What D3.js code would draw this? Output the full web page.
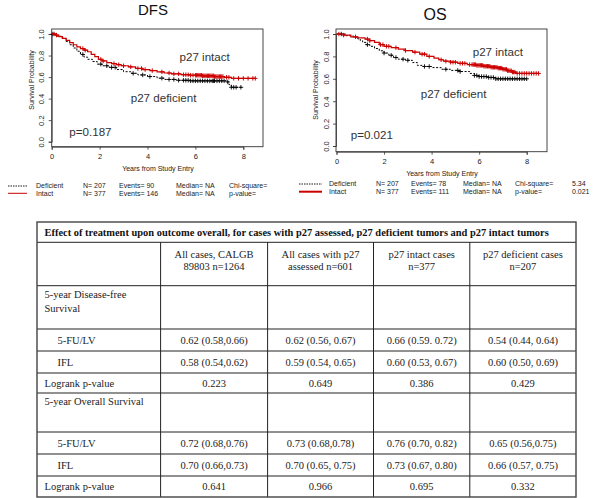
<!DOCTYPE html>
<html><head><meta charset="utf-8">
<script src="https://cdn.jsdelivr.net/npm/d3@7"></script>
<style>body{margin:0;background:#fff}svg{display:block}</style>
</head><body>
<script>
// ---------------- DATA ----------------
const xTicks = [0, 2, 4, 6, 8];
const yTicks = [0, 0.2, 0.4, 0.6, 0.8, 1.0];

// DFS – p27 intact (step times / survival)
const dfsIntactTime = [0,0.15,0.3,0.45,0.6,0.75,0.9,1.05,1.2,1.35,1.5,1.65,1.8,1.95,2.1,2.3,2.5,2.7,2.9,3.2,3.5,3.8,4.1,4.4,4.7,5.0,5.4,5.8,6.3,6.8,7.2,7.5];
const dfsIntactSurv = [1.0,0.99,0.975,0.96,0.94,0.92,0.90,0.88,0.865,0.85,0.835,0.81,0.79,0.765,0.75,0.735,0.725,0.715,0.705,0.695,0.68,0.67,0.66,0.648,0.638,0.63,0.622,0.617,0.612,0.605,0.598,0.588];
const dfsIntactEnd = 8.5;
const dfsIntactCens = [0.1,0.2,1.3,1.4,2.05,2.15,2.6,2.8,3.0,3.3,3.6,3.75,3.9,4.2,4.6,4.9,5.1,5.3,5.5,5.6,5.7,5.8,5.9,6.0,6.05,6.1,6.15,6.2,6.25,6.3,6.35,6.4,6.45,6.5,6.55,6.6,6.65,6.7,6.75,6.8,6.85,6.9,6.95,7.0,7.05,7.1,7.15,7.3,7.4,7.6,7.8,8.0,8.2,8.4,8.5];

// DFS – p27 deficient
const dfsDefTime = [0,0.2,0.4,0.6,0.75,0.9,1.05,1.2,1.35,1.5,1.7,1.9,2.1,2.4,2.7,3.0,3.3,3.6,4.0,4.4,4.7,5.2,5.8,7.3,7.4,7.5];
const dfsDefSurv = [1.0,0.98,0.96,0.93,0.90,0.87,0.84,0.81,0.785,0.765,0.745,0.72,0.705,0.69,0.67,0.65,0.635,0.62,0.605,0.59,0.578,0.57,0.565,0.555,0.53,0.505];
const dfsDefEnd = 8.0;
const dfsDefCens = [0.05,1.3,2.05,2.3,2.5,2.65,3.4,3.8,4.1,4.6,4.9,5.1,5.3,5.5,5.6,5.7,5.8,5.9,6.0,6.1,6.2,6.3,6.4,6.5,6.6,6.7,6.75,6.8,6.9,7.0,7.1,7.2,7.35,7.5,7.6,7.7,7.9];

// OS – p27 intact
const osIntactTime = [0,0.3,0.6,0.9,1.2,1.4,1.6,1.8,2.0,2.3,2.6,2.9,3.2,3.5,3.8,4.1,4.3,4.5,4.8,5.1,5.5,5.9,6.2,6.5,6.8,7.0,7.2,7.4,7.55];
const osIntactSurv = [1.0,0.99,0.975,0.965,0.955,0.94,0.925,0.905,0.89,0.878,0.865,0.852,0.838,0.82,0.80,0.785,0.77,0.757,0.748,0.738,0.727,0.72,0.712,0.703,0.695,0.685,0.672,0.66,0.648];
const osIntactEnd = 8.5;
const osIntactCens = [0.1,0.3,0.8,1.3,1.4,1.85,1.95,2.1,2.2,2.5,2.9,3.3,3.6,3.7,3.9,4.4,4.6,4.8,4.9,5.0,5.2,5.3,5.4,5.6,5.7,5.75,5.8,5.85,5.9,5.95,6.0,6.05,6.1,6.15,6.2,6.25,6.3,6.35,6.4,6.45,6.5,6.55,6.6,6.65,6.7,6.75,6.8,6.85,6.9,6.95,7.0,7.05,7.1,7.15,7.2,7.25,7.3,7.35,7.4,7.45,7.5,7.6,7.7,7.8,7.9,8.0,8.1,8.2,8.3,8.4,8.5];

// OS – p27 deficient
const osDefTime = [0,0.4,0.7,0.9,1.0,1.1,1.25,1.4,1.6,1.8,2.0,2.2,2.4,2.6,2.9,3.2,3.4,3.6,4.0,4.4,4.8,5.2,5.6,5.8,6.0,6.4,6.7];
const osDefSurv = [1.0,0.985,0.97,0.955,0.94,0.925,0.905,0.89,0.87,0.85,0.83,0.81,0.79,0.775,0.765,0.745,0.72,0.71,0.70,0.685,0.675,0.665,0.648,0.63,0.62,0.612,0.60];
const osDefEnd = 8.0;
const osDefCens = [0.2,1.3,2.0,2.3,2.5,2.8,3.0,3.7,3.9,4.6,5.1,5.2,5.8,5.9,6.0,6.1,6.2,6.3,6.4,6.5,6.6,6.7,6.8,6.9,7.0,7.1,7.2,7.3,7.4,7.5,7.6,7.7,7.8,7.9,8.0];

// legends
const dfsLegendRows = [["Deficient","N= 207","Events= 90","Median= NA","Chi-square="],
                       ["Intact","N= 377","Events= 146","Median= NA","p-value="]];
const osLegendRows  = [["Deficient","N= 207","Events= 78","Median= NA","Chi-square=","5.34"],
                       ["Intact","N= 377","Events= 111","Median= NA","p-value=","0.021"]];

// table
const tableTitle = "Effect of treatment upon outcome overall, for cases with p27 assessed, p27 deficient tumors and p27 intact tumors";
const colHeaders = [["All cases, CALGB","89803 n=1264"],["All cases with p27","assessed n=601"],["p27 intact cases","n=377"],["p27 deficient cases","n=207"]];
const rowLabels = [["5-year Disease-free","Survival"],["5-FU/LV"],["IFL"],["Logrank p-value"],["5-year Overall Survival"],["5-FU/LV"],["IFL"],["Logrank p-value"]];
const rowValues = [
  [],
  ["0.62 (0.58,0.66)","0.62 (0.56, 0.67)","0.66 (0.59. 0.72)","0.54 (0.44, 0.64)"],
  ["0.58 (0.54,0.62)","0.59 (0.54, 0.65)","0.60 (0.53, 0.67)","0.60 (0.50, 0.69)"],
  ["0.223","0.649","0.386","0.429"],
  [],
  ["0.72 (0.68,0.76)","0.73 (0.68,0.78)","0.76 (0.70, 0.82)","0.65 (0.56,0.75)"],
  ["0.70 (0.66,0.73)","0.70 (0.65, 0.75)","0.73 (0.67, 0.80)","0.66 (0.57, 0.75)"],
  ["0.641","0.966","0.695","0.332"]
];

// ---------------- DRAW ----------------
const W = 600, H = 498;
const RED = "#cc0000";
const SANS = "'Liberation Sans', Arial, sans-serif";
const SERIF = "'Liberation Serif', 'Times New Roman', serif";
const svg = d3.select("body").append("svg").attr("width", W).attr("height", H);

function stepData(times, surv, end) {
  const d = times.map((t, i) => [t, surv[i]]);
  d.push([end, surv[surv.length - 1]]);
  return d;
}
function survAt(times, surv, t) {
  let s = surv[0];
  for (let i = 0; i < times.length; i++) if (times[i] <= t) s = surv[i];
  return s;
}

const panels = [
  { title: "DFS", titleSize: 15, titleX: 153, titleY: 15,
    box: { l: 51.7, r: 263, t: 29, b: 146.7 }, x0: 51.7, x8: 243.3, y0: 141.7, y1: 34,
    yLabCY: 80, xLabCX: 158,
    curves: [
      { time: dfsDefTime, surv: dfsDefSurv, end: dfsDefEnd, cens: dfsDefCens, color: "#000", dash: "2,1.6", w: 1 },
      { time: dfsIntactTime, surv: dfsIntactSurv, end: dfsIntactEnd, cens: dfsIntactCens, color: RED, dash: null, w: 1.2 }
    ],
    notes: [["p27 intact", 179.5, 56.7], ["p27 deficient", 130.7, 98.3], ["p=0.187", 69.3, 132.3]],
    legend: { rows: dfsLegendRows, lx1: 8, lx2: 27, ys: [186, 193.3], xs: [36, 83, 119, 176, 229], redW: 1 }
  },
  { title: "OS", titleSize: 16, titleX: 435, titleY: 20,
    box: { l: 336, r: 547, t: 29, b: 151.7 }, x0: 336.5, x8: 526.7, y0: 146, y1: 34,
    yLabCY: 90, xLabCX: 442,
    curves: [
      { time: osDefTime, surv: osDefSurv, end: osDefEnd, cens: osDefCens, color: "#000", dash: "2,1.6", w: 1 },
      { time: osIntactTime, surv: osIntactSurv, end: osIntactEnd, cens: osIntactCens, color: RED, dash: null, w: 1.2 }
    ],
    notes: [["p27 intact", 472.7, 51.7], ["p27 deficient", 420.7, 94.3], ["p=0.021", 350.7, 135]],
    legend: { rows: osLegendRows, lx1: 299, lx2: 322, ys: [184, 191.7], xs: [329, 376, 411, 463, 515, 572], redW: 2 }
  }
];

panels.forEach(p => {
  const g = svg.append("g");
  const x = d3.scaleLinear().domain([0, 8]).range([p.x0, p.x8]);
  const y = d3.scaleLinear().domain([0, 1]).range([p.y0, p.y1]);

  g.append("text").attr("x", p.titleX).attr("y", p.titleY).attr("text-anchor", "middle")
    .attr("font-family", SANS).attr("font-size", p.titleSize).attr("fill", "#111").text(p.title);

  // box
  g.append("rect").attr("x", p.box.l).attr("y", p.box.t)
    .attr("width", p.box.r - p.box.l).attr("height", p.box.b - p.box.t)
    .attr("fill", "none").attr("stroke", "#333").attr("stroke-width", 0.9);

  // x axis
  const xa = g.append("g").attr("transform", `translate(0,${p.box.b})`)
    .call(d3.axisBottom(x).tickValues(xTicks).tickSize(3).tickPadding(4).tickFormat(d3.format("d")));
  xa.select(".domain").attr("stroke", "#333").attr("stroke-width", 0.8);
  xa.selectAll(".tick line").attr("stroke", "#333").attr("stroke-width", 0.8);
  xa.selectAll(".tick text").attr("font-family", SANS).attr("font-size", 7.5).attr("fill", "#222");

  // y axis
  const ya = g.append("g").attr("transform", `translate(${p.box.l},0)`)
    .call(d3.axisLeft(y).tickValues(yTicks).tickSize(3).tickFormat(d3.format(".1f")));
  ya.select(".domain").attr("stroke", "#333").attr("stroke-width", 0.8);
  ya.selectAll(".tick line").attr("stroke", "#333").attr("stroke-width", 0.8);
  ya.selectAll(".tick text").attr("font-family", SANS).attr("font-size", 7.5).attr("fill", "#222")
    .attr("text-anchor", "middle").attr("x", 0).attr("dy", "0.35em")
    .attr("transform", "translate(-10,0) rotate(-90)");

  // axis titles
  g.append("text").attr("transform", `translate(${p.box.l - 20},${p.yLabCY}) rotate(-90)`)
    .attr("text-anchor", "middle").attr("dy", "0.35em").attr("font-family", SANS).attr("font-size", 7)
    .attr("fill", "#222").text("Survival Probability");
  g.append("text").attr("x", p.xLabCX).attr("y", p.box.b + 21.6).attr("dy", "0.35em")
    .attr("text-anchor", "middle").attr("font-family", SANS).attr("font-size", 7)
    .attr("fill", "#222").text("Years from Study Entry");

  // curves
  const line = d3.line().x(d => x(d[0])).y(d => y(d[1])).curve(d3.curveStepAfter);
  p.curves.forEach(c => {
    g.append("path").datum(stepData(c.time, c.surv, c.end)).attr("d", line)
      .attr("fill", "none").attr("stroke", c.color).attr("stroke-width", c.w)
      .attr("stroke-dasharray", c.dash);
    const cg = g.append("g").attr("stroke", c.color).attr("stroke-width", c.color === RED ? 1 : 0.9);
    c.cens.forEach(t => {
      const cx = x(t), cy = y(survAt(c.time, c.surv, t));
      cg.append("line").attr("x1", cx - 2.2).attr("x2", cx + 2.2).attr("y1", cy).attr("y2", cy);
      cg.append("line").attr("x1", cx).attr("x2", cx).attr("y1", cy - 2.2).attr("y2", cy + 2.2);
    });
  });

  // notes
  p.notes.forEach(n => {
    g.append("text").attr("x", n[1]).attr("y", n[2]).attr("dy", "0.35em")
      .attr("font-family", SANS).attr("font-size", 11.6).attr("fill", "#333").text(n[0]);
  });

  // legend
  const L = p.legend;
  g.append("line").attr("x1", L.lx1).attr("x2", L.lx2).attr("y1", L.ys[0]).attr("y2", L.ys[0])
    .attr("stroke", "#000").attr("stroke-width", 0.9).attr("stroke-dasharray", "1.5,1");
  g.append("line").attr("x1", L.lx1).attr("x2", L.lx2).attr("y1", L.ys[1]).attr("y2", L.ys[1])
    .attr("stroke", RED).attr("stroke-width", L.redW);
  L.rows.forEach((row, ri) => {
    row.forEach((txt, ci) => {
      g.append("text").attr("x", L.xs[ci]).attr("y", L.ys[ri]).attr("dy", "0.35em")
        .attr("font-family", SANS).attr("font-size", 7).attr("fill", "#222").text(txt);
    });
  });
});

// ---------------- TABLE ----------------
const colX = [37, 160.6, 267.6, 373.5, 469.8, 576];
const rowY = [222, 242.3, 285.7, 329, 351, 373, 393, 432, 454, 476, 497];
const tg = svg.append("g").attr("font-family", SERIF).attr("fill", "#111");

// inner horizontal lines
rowY.slice(1, -1).forEach(yv => {
  tg.append("line").attr("x1", colX[0]).attr("x2", colX[5]).attr("y1", yv).attr("y2", yv)
    .attr("stroke", "#222").attr("stroke-width", 1);
});
// inner vertical lines (below title row)
colX.slice(1, -1).forEach(xv => {
  tg.append("line").attr("x1", xv).attr("x2", xv).attr("y1", rowY[1]).attr("y2", rowY[10])
    .attr("stroke", "#222").attr("stroke-width", 1);
});
// outer border
tg.append("rect").attr("x", colX[0]).attr("y", rowY[0]).attr("width", colX[5] - colX[0])
  .attr("height", rowY[10] - rowY[0]).attr("fill", "none").attr("stroke", "#444").attr("stroke-width", 1.4);

// title
const tt = tg.append("text").attr("x", 44.6).attr("y", (rowY[0] + rowY[1]) / 2).attr("dy", "0.35em")
  .attr("font-weight", "bold").attr("font-size", 10).text(tableTitle);
const tl = tt.node().getComputedTextLength();
tt.attr("font-size", 10 * 505 / tl);

// headers
colHeaders.forEach((h, i) => {
  const cx = (colX[i + 1] + colX[i + 2]) / 2;
  h.forEach((ln, j) => {
    tg.append("text").attr("x", cx).attr("y", 254 + j * 12).attr("dy", "0.35em")
      .attr("text-anchor", "middle").attr("font-size", 10.5).attr("fill", "#222").text(ln);
  });
});

// rows
rowLabels.forEach((lab, ri) => {
  const top = rowY[ri + 2], bot = rowY[ri + 3];
  const isSection = rowValues[ri].length === 0;
  const indent = (lab[0] === "5-FU/LV" || lab[0] === "IFL") ? 57.5 : 44.5;
  lab.forEach((ln, j) => {
    const yy = isSection ? top + 8.5 + j * 14 : (top + bot) / 2;
    tg.append("text").attr("x", indent).attr("y", yy).attr("dy", "0.35em")
      .attr("font-size", 10.5).attr("fill", "#222").text(ln);
  });
  rowValues[ri].forEach((v, ci) => {
    const cx = (colX[ci + 1] + colX[ci + 2]) / 2;
    tg.append("text").attr("x", cx).attr("y", (top + bot) / 2).attr("dy", "0.35em")
      .attr("text-anchor", "middle").attr("font-size", 10.5).attr("fill", "#222").text(v);
  });
});
</script>
</body></html>
